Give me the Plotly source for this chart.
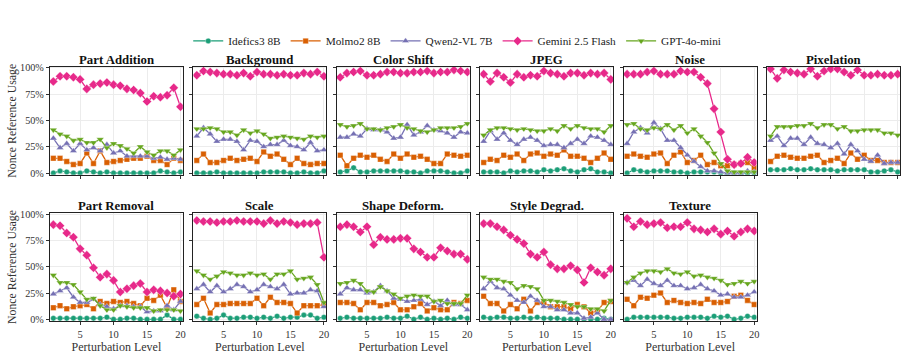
import plotly.graph_objects as go
from plotly.subplots import make_subplots

levels = list(range(1, 21))
perturbations = ["Part Addition", "Background", "Color Shift", "JPEG", "Noise", "Pixelation",
                 "Part Removal", "Scale", "Shape Deform.", "Style Degrad.", "Texture"]
models = ["Idefics3 8B", "Molmo2 8B", "Qwen2-VL 7B", "Gemini 2.5 Flash", "GPT-4o-mini"]
colors = ["#1b9e77", "#d95f02", "#7570b3", "#e7298a", "#66a61e"]
symbols = ["circle", "square", "triangle-up", "diamond", "triangle-down"]
y_ticks = [0, 0.25, 0.5, 0.75, 1.0]
y_tick_labels = ["0%", "25%", "50%", "75%", "100%"]
x_ticks = [5, 10, 15, 20]

part_addition_idefics = [0, 2, 1, 0, 0, 2, 1, 0, 1, 0, 0, 0, 0, 0, 0, 0, 2, 1, 0, 1]
part_addition_molmo = [14, 14, 11, 8, 9, 19, 9, 21, 10, 11, 12, 13, 14, 14, 16, 12, 12, 8, 14, 12]
part_addition_qwen = [33, 24, 28, 21, 28, 22, 24, 21, 27, 19, 21, 16, 16, 16, 16, 14, 15, 13, 14, 13]
part_addition_gemini = [87, 92, 92, 91, 89, 80, 84, 85, 86, 84, 83, 80, 79, 76, 68, 73, 72, 74, 81, 63]
part_addition_gpt = [41, 37, 35, 31, 32, 29, 29, 32, 24, 28, 26, 23, 19, 25, 20, 17, 21, 21, 17, 22]

background_idefics = [0, 0, 0, 1, 0, 0, 0, 0, 0, 0, 1, 1, 1, 1, 0, 0, 1, 0, 0, 2]
background_molmo = [12, 18, 10, 10, 12, 14, 12, 13, 14, 11, 20, 16, 18, 13, 8, 14, 9, 8, 9, 9]
background_qwen = [35, 43, 37, 30, 32, 32, 30, 22, 31, 30, 25, 27, 27, 31, 26, 25, 22, 29, 21, 22]
background_gemini = [93, 97, 96, 95, 94, 94, 93, 95, 92, 96, 94, 94, 93, 94, 93, 93, 95, 94, 96, 92]
background_gpt = [42, 42, 43, 42, 39, 39, 36, 41, 38, 40, 37, 33, 34, 35, 34, 33, 32, 35, 34, 35]

color_shift_idefics = [1, 2, 5, 1, 1, 2, 2, 2, 2, 2, 1, 1, 0, 2, 2, 2, 1, 0, 0, 2]
color_shift_molmo = [17, 7, 14, 17, 15, 17, 13, 11, 18, 14, 18, 15, 16, 13, 9, 9, 18, 17, 16, 17]
color_shift_qwen = [34, 34, 37, 35, 42, 41, 41, 39, 33, 34, 46, 36, 39, 45, 41, 40, 38, 34, 39, 38]
color_shift_gemini = [91, 95, 96, 97, 93, 93, 94, 96, 96, 95, 95, 96, 96, 97, 95, 96, 96, 98, 97, 96]
color_shift_gpt = [46, 44, 45, 47, 42, 42, 41, 43, 44, 46, 43, 42, 40, 39, 41, 43, 43, 43, 44, 47]

jpeg_idefics = [1, 1, 1, 0, 2, 1, 2, 2, 1, 3, 2, 3, 4, 2, 1, 3, 4, 1, 1, 0]
jpeg_molmo = [10, 13, 12, 17, 15, 18, 12, 18, 19, 16, 18, 17, 22, 16, 16, 14, 10, 14, 19, 13]
jpeg_qwen = [30, 40, 32, 38, 31, 27, 32, 34, 31, 26, 27, 27, 24, 28, 32, 28, 35, 34, 31, 27]
jpeg_gemini = [94, 87, 95, 91, 86, 94, 91, 93, 92, 97, 95, 94, 92, 95, 95, 93, 95, 94, 95, 89]
jpeg_gpt = [36, 41, 43, 43, 42, 41, 42, 41, 40, 40, 42, 40, 45, 42, 45, 43, 42, 42, 39, 45]

noise_idefics = [0, 3, 2, 1, 2, 2, 2, 1, 1, 0, 1, 1, 1, 1, 0, 0, 0, 0, 0, 0]
noise_molmo = [16, 18, 16, 15, 18, 19, 9, 17, 20, 10, 12, 17, 8, 10, 7, 7, 8, 9, 10, 5]
noise_qwen = [28, 39, 43, 38, 48, 42, 31, 31, 24, 17, 11, 6, 2, 2, 1, 0, 0, 0, 2, 1]
noise_gemini = [94, 94, 94, 96, 97, 94, 94, 94, 97, 96, 96, 91, 85, 61, 39, 13, 8, 9, 15, 10]
noise_gpt = [46, 47, 42, 41, 43, 42, 46, 41, 45, 38, 42, 35, 29, 19, 9, 2, 1, 1, 1, 1]

pixelation_idefics = [3, 3, 3, 4, 3, 3, 4, 3, 3, 3, 2, 3, 3, 3, 3, 1, 1, 2, 3, 1]
pixelation_molmo = [11, 16, 17, 15, 14, 14, 16, 17, 10, 12, 14, 9, 19, 13, 17, 12, 12, 10, 10, 10]
pixelation_qwen = [31, 35, 26, 33, 33, 27, 34, 28, 27, 24, 28, 18, 27, 21, 13, 11, 17, 9, 10, 10]
pixelation_gemini = [99, 90, 98, 96, 95, 94, 99, 92, 97, 99, 99, 96, 93, 98, 93, 93, 94, 93, 93, 94]
pixelation_gpt = [35, 44, 44, 44, 45, 45, 47, 43, 46, 46, 42, 44, 40, 40, 41, 41, 41, 38, 38, 36]

part_removal_idefics = [1, 1, 1, 1, 1, 1, 1, 1, 2, 0, 0, 1, 1, 0, 0, 0, 0, 4, 0, 0]
part_removal_molmo = [11, 13, 10, 12, 13, 14, 10, 17, 15, 17, 16, 17, 15, 13, 20, 18, 23, 11, 28, 17]
part_removal_qwen = [24, 27, 30, 21, 16, 16, 19, 14, 12, 10, 13, 13, 12, 12, 7, 8, 8, 13, 9, 17]
part_removal_gemini = [90, 89, 82, 78, 67, 61, 49, 40, 43, 37, 26, 29, 32, 34, 26, 28, 27, 25, 22, 24]
part_removal_gpt = [42, 35, 35, 33, 26, 19, 20, 13, 9, 9, 13, 12, 11, 11, 11, 8, 9, 9, 9, 8]

scale_idefics = [3, 1, 0, 1, 4, 1, 1, 2, 2, 1, 2, 1, 3, 1, 2, 2, 4, 4, 1, 2]
scale_molmo = [14, 20, 6, 14, 14, 15, 15, 15, 15, 20, 13, 21, 16, 16, 15, 6, 13, 13, 13, 14]
scale_qwen = [29, 33, 26, 32, 26, 29, 33, 31, 26, 28, 33, 31, 29, 33, 24, 25, 25, 28, 27, 12]
scale_gemini = [94, 93, 93, 92, 93, 93, 94, 93, 93, 93, 91, 94, 91, 93, 92, 90, 91, 91, 92, 59]
scale_gpt = [46, 42, 38, 41, 45, 44, 42, 42, 44, 42, 43, 38, 43, 43, 46, 38, 39, 40, 33, 16]

shape_idefics = [1, 2, 1, 1, 1, 1, 1, 2, 1, 1, 3, 0, 2, 0, 1, 0, 1, 0, 2, 1]
shape_molmo = [16, 16, 15, 9, 16, 16, 13, 14, 16, 9, 9, 12, 15, 8, 11, 9, 9, 16, 15, 18]
shape_qwen = [24, 30, 28, 28, 25, 26, 32, 27, 20, 19, 17, 18, 19, 14, 17, 13, 18, 14, 14, 9]
shape_gemini = [88, 90, 88, 83, 88, 71, 78, 76, 76, 77, 77, 67, 64, 59, 59, 68, 65, 62, 62, 57]
shape_gpt = [34, 35, 37, 34, 27, 26, 31, 27, 24, 20, 22, 23, 22, 22, 17, 18, 15, 15, 15, 23]

style_idefics = [2, 1, 2, 2, 1, 1, 2, 1, 2, 1, 1, 1, 0, 0, 0, 0, 0, 0, 1, 0]
style_molmo = [22, 15, 15, 8, 14, 10, 19, 8, 16, 16, 12, 12, 12, 10, 14, 12, 6, 8, 16, 17]
style_qwen = [29, 36, 30, 29, 23, 18, 16, 22, 18, 12, 12, 9, 9, 6, 6, 1, 2, 6, 0, 0]
style_gemini = [91, 91, 88, 85, 80, 76, 72, 62, 59, 64, 52, 48, 48, 51, 47, 35, 49, 45, 42, 48]
style_gpt = [40, 38, 38, 36, 35, 29, 32, 31, 29, 18, 18, 17, 16, 14, 12, 12, 10, 10, 8, 18]

texture_idefics = [0, 2, 2, 2, 2, 2, 2, 1, 1, 2, 2, 2, 1, 3, 2, 3, 0, 1, 3, 2]
texture_molmo = [19, 13, 21, 20, 23, 25, 16, 18, 16, 15, 16, 15, 19, 16, 16, 17, 22, 23, 18, 14]
texture_qwen = [35, 37, 32, 38, 34, 32, 37, 32, 32, 29, 30, 33, 29, 27, 23, 24, 21, 21, 23, 26]
texture_gemini = [96, 88, 93, 90, 91, 92, 87, 88, 88, 92, 86, 85, 83, 86, 81, 84, 79, 83, 86, 84]
texture_gpt = [35, 40, 44, 46, 46, 45, 48, 44, 43, 45, 41, 42, 40, 39, 37, 33, 34, 36, 34, 36]

data = {
    "Part Addition": [part_addition_idefics, part_addition_molmo, part_addition_qwen, part_addition_gemini, part_addition_gpt],
    "Background": [background_idefics, background_molmo, background_qwen, background_gemini, background_gpt],
    "Color Shift": [color_shift_idefics, color_shift_molmo, color_shift_qwen, color_shift_gemini, color_shift_gpt],
    "JPEG": [jpeg_idefics, jpeg_molmo, jpeg_qwen, jpeg_gemini, jpeg_gpt],
    "Noise": [noise_idefics, noise_molmo, noise_qwen, noise_gemini, noise_gpt],
    "Pixelation": [pixelation_idefics, pixelation_molmo, pixelation_qwen, pixelation_gemini, pixelation_gpt],
    "Part Removal": [part_removal_idefics, part_removal_molmo, part_removal_qwen, part_removal_gemini, part_removal_gpt],
    "Scale": [scale_idefics, scale_molmo, scale_qwen, scale_gemini, scale_gpt],
    "Shape Deform.": [shape_idefics, shape_molmo, shape_qwen, shape_gemini, shape_gpt],
    "Style Degrad.": [style_idefics, style_molmo, style_qwen, style_gemini, style_gpt],
    "Texture": [texture_idefics, texture_molmo, texture_qwen, texture_gemini, texture_gpt],
}

FONT = "Liberation Serif"
fig = make_subplots(rows=2, cols=6, horizontal_spacing=0.0125, vertical_spacing=0.151,
                    subplot_titles=[f"<b>{p}</b>" for p in perturbations] + [""])

marker_sizes = [5.5, 5.5, 6.5, 7, 6.5]
for i, p in enumerate(perturbations):
    r, c = i // 6 + 1, i % 6 + 1
    for m, (name, col, sym) in enumerate(zip(models, colors, symbols)):
        vals = [v / 100 for v in data[p][m]]
        fig.add_trace(go.Scatter(
            x=levels, y=vals, mode="lines+markers", name=name,
            legendgroup=name, showlegend=(i == 0),
            line=dict(color=col, width=1.3),
            marker=dict(symbol=sym, size=marker_sizes[m], color=col,
                        line=dict(color="rgba(255,255,255,0.6)", width=0.6)),
        ), row=r, col=c)

for i in range(12):
    r, c = i // 6 + 1, i % 6 + 1
    if i == 11:
        fig.update_xaxes(visible=False, row=r, col=c)
        fig.update_yaxes(visible=False, row=r, col=c)
        continue
    fig.update_xaxes(range=[0.5, 20.35], tickvals=x_ticks, showticklabels=(r == 2),
                     ticks="outside", ticklen=3, tickwidth=1, tickcolor="#333",
                     showline=True, linecolor="#222", linewidth=1.2, mirror=True,
                     showgrid=True, gridcolor="#ececec", gridwidth=1, zeroline=False,
                     tickfont=dict(family=FONT, size=10.5, color="#333"),
                     title=dict(text="Perturbation Level" if r == 2 else "",
                                font=dict(family=FONT, size=12, color="#333"), standoff=1),
                     row=r, col=c)
    fig.update_yaxes(range=[-0.016, 1.01], tickvals=y_ticks, ticktext=y_tick_labels,
                     showticklabels=(c == 1),
                     ticks="outside", ticklen=3, tickwidth=1, tickcolor="#333",
                     showline=True, linecolor="#222", linewidth=1.2, mirror=True,
                     showgrid=True, gridcolor="#ececec", gridwidth=1, zeroline=False,
                     tickfont=dict(family=FONT, size=10.2, color="#333"),
                     title=dict(text="Nonce Reference Usage" if c == 1 else "",
                                font=dict(family=FONT, size=11.8, color="#333"), standoff=0),
                     row=r, col=c)

for ann in fig.layout.annotations:
    ann.font = dict(family=FONT, size=12.8, color="#111")
    ann.yshift = -2

fig.update_layout(
    width=909, height=356,
    margin=dict(l=49.5, r=6.5, t=63.5, b=31),
    paper_bgcolor="white", plot_bgcolor="white",
    font=dict(family=FONT, size=10, color="#222"),
    legend=dict(orientation="h", x=0.503, xanchor="center", xref="container",
                y=0.885, yanchor="middle", yref="container",
                font=dict(family=FONT, size=11.3, color="#222"),
                itemwidth=30, tracegroupgap=0, bgcolor="rgba(0,0,0,0)"),
)

fig.write_html("out.html")
